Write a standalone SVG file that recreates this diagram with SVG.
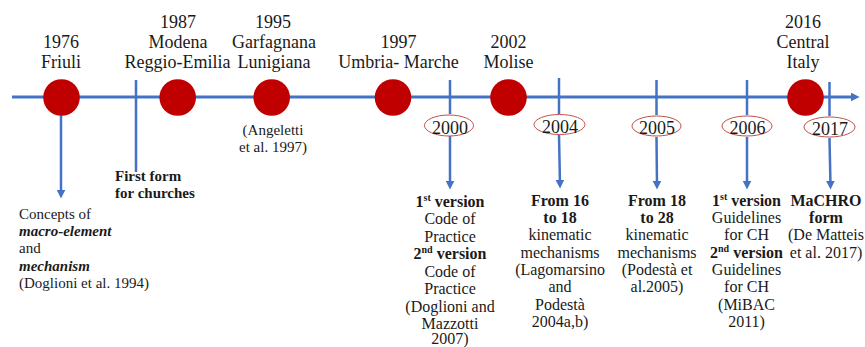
<svg xmlns="http://www.w3.org/2000/svg" width="865" height="347" viewBox="0 0 865 347">
<style>
  .conn line{stroke:#4472c4;stroke-width:2.5;fill:none}
  .conn .axis{stroke-width:3}
  .conn .arr{marker-end:url(#ah)}
  .quake{fill:#c00000}
  .yr{fill:none;stroke:#c0504d;stroke-width:1}
  text{font-family:"Liberation Serif","Times New Roman",serif;fill:#1a1a1a}
  .top{font-size:18px;text-anchor:middle}
  .ell{font-size:18px;text-anchor:middle}
  .col{font-size:16px;text-anchor:middle}
  .sm{font-size:15px}
  .b{font-weight:bold}
  .bi{font-weight:bold;font-style:italic}
  .sup{font-size:10px}
</style>
<defs>
  <marker id="ah" viewBox="0 0 10 10" refX="6" refY="5" markerWidth="9" markerHeight="9" markerUnits="userSpaceOnUse" orient="auto">
    <path d="M0,0 L10,5 L0,10 z" fill="#4472c4"/>
  </marker>
</defs>

<g id="connectors" class="conn">
  <line class="axis arr" x1="12" y1="97" x2="856" y2="97"/>
  <line x1="136" y1="80" x2="136" y2="172"/>
  <line class="arr" x1="61" y1="115" x2="61" y2="195"/>
  <line x1="450" y1="80" x2="450" y2="114"/>
  <line class="arr" x1="450" y1="136" x2="450" y2="186"/>
  <line x1="559" y1="78" x2="559" y2="114"/>
  <line class="arr" x1="559" y1="135" x2="560" y2="185"/>
  <line x1="656.5" y1="80" x2="656.5" y2="115"/>
  <line class="arr" x1="656.5" y1="137" x2="657" y2="186"/>
  <line x1="747" y1="80" x2="747" y2="115"/>
  <line class="arr" x1="747" y1="137" x2="747" y2="186"/>
  <line x1="829.5" y1="82" x2="829.5" y2="116"/>
  <line class="arr" x1="829.5" y1="138" x2="830.5" y2="186"/>
</g>

<g id="e1976">
  <circle class="quake" cx="61.5" cy="97.5" r="18.3"/>
  <text class="top" x="61" y="48">1976</text>
  <text class="top" x="61" y="68">Friuli</text>
</g>
<g id="e1976-note">
  <text class="sm" x="19" y="219">Concepts of</text>
  <text class="sm bi" x="19" y="236">macro-element</text>
  <text class="sm" x="19" y="253">and</text>
  <text class="sm bi" x="19" y="270.5">mechanism</text>
  <text class="sm" x="19" y="288">(Doglioni et al. 1994)</text>
</g>
<g id="first-form">
  <text class="sm b" x="115" y="181">First form</text>
  <text class="sm b" x="115" y="197.5">for churches</text>
</g>
<g id="e1987">
  <circle class="quake" cx="177.7" cy="97.5" r="18.3"/>
  <text class="top" x="178" y="28">1987</text>
  <text class="top" x="178" y="48">Modena</text>
  <text class="top" x="177.5" y="68">Reggio-Emilia</text>
</g>
<g id="e1995">
  <circle class="quake" cx="271.7" cy="97.5" r="18.3"/>
  <text class="top" x="273" y="28">1995</text>
  <text class="top" x="274" y="48">Garfagnana</text>
  <text class="top" x="274" y="68">Lunigiana</text>
  <text class="sm" x="273" y="135" text-anchor="middle">(Angeletti</text>
  <text class="sm" x="273" y="151.5" text-anchor="middle">et al. 1997)</text>
</g>
<g id="e1997">
  <circle class="quake" cx="393" cy="97.5" r="18.3"/>
  <text class="top" x="398.5" y="48">1997</text>
  <text class="top" x="398.5" y="68">Umbria- Marche</text>
</g>
<g id="e2002">
  <circle class="quake" cx="508.5" cy="97.5" r="18.3"/>
  <text class="top" x="508.5" y="48">2002</text>
  <text class="top" x="508.5" y="68">Molise</text>
</g>
<g id="e2016">
  <circle class="quake" cx="805.5" cy="97.5" r="18.3"/>
  <text class="top" x="803" y="28">2016</text>
  <text class="top" x="803" y="48">Central</text>
  <text class="top" x="803" y="68">Italy</text>
</g>

<g id="y2000">
  <ellipse class="yr" cx="449" cy="125.5" rx="24.5" ry="10.5"/>
  <text class="ell" x="450" y="133.5">2000</text>
  <text class="col b" x="450" y="206.5">1<tspan class="sup" dy="-6">st</tspan><tspan dy="6"> version</tspan></text>
  <text class="col" x="450" y="224">Code of</text>
  <text class="col" x="450" y="241.5">Practice</text>
  <text class="col b" x="450" y="259">2<tspan class="sup" dy="-6">nd</tspan><tspan dy="6"> version</tspan></text>
  <text class="col" x="450" y="276.5">Code of</text>
  <text class="col" x="450" y="294">Practice</text>
  <text class="col" x="450" y="311.5">(Doglioni and</text>
  <text class="col" x="450" y="328.5">Mazzotti</text>
  <text class="col" x="450" y="344">2007)</text>
</g>
<g id="y2004">
  <ellipse class="yr" cx="559.5" cy="124.5" rx="25.5" ry="10"/>
  <text class="ell" x="560" y="132.5">2004</text>
  <text class="col b" x="560" y="205.5">From 16</text>
  <text class="col b" x="560" y="222.5">to 18</text>
  <text class="col" x="560" y="240">kinematic</text>
  <text class="col" x="560" y="257.5">mechanisms</text>
  <text class="col" x="560" y="275">(Lagomarsino</text>
  <text class="col" x="560" y="292">and</text>
  <text class="col" x="560" y="309.5">Podestà</text>
  <text class="col" x="560" y="327">2004a,b)</text>
</g>
<g id="y2005">
  <ellipse class="yr" cx="656.5" cy="126" rx="24.5" ry="10"/>
  <text class="ell" x="657" y="134">2005</text>
  <text class="col b" x="657" y="205.5">From 18</text>
  <text class="col b" x="657" y="222.5">to 28</text>
  <text class="col" x="657" y="240">kinematic</text>
  <text class="col" x="657" y="257.5">mechanisms</text>
  <text class="col" x="657" y="275">(Podestà et</text>
  <text class="col" x="657" y="292">al.2005)</text>
</g>
<g id="y2006">
  <ellipse class="yr" cx="747" cy="126" rx="25" ry="10"/>
  <text class="ell" x="747.5" y="134">2006</text>
  <text class="col b" x="746.5" y="205.5">1<tspan class="sup" dy="-6">st</tspan><tspan dy="6"> version</tspan></text>
  <text class="col" x="746.5" y="222.5">Guidelines</text>
  <text class="col" x="746.5" y="240">for CH</text>
  <text class="col b" x="746.5" y="257.5">2<tspan class="sup" dy="-6">nd</tspan><tspan dy="6"> version</tspan></text>
  <text class="col" x="746.5" y="275">Guidelines</text>
  <text class="col" x="746.5" y="292">for CH</text>
  <text class="col" x="746.5" y="309.5">(MiBAC</text>
  <text class="col" x="746.5" y="327">2011)</text>
</g>
<g id="y2017">
  <ellipse class="yr" cx="829.5" cy="127" rx="25.5" ry="10"/>
  <text class="ell" x="830" y="135">2017</text>
  <text class="col b" x="826" y="205.5">MaCHRO</text>
  <text class="col b" x="826" y="222.5">form</text>
  <text class="col" x="826" y="240">(De Matteis</text>
  <text class="col" x="826" y="257.5">et al. 2017)</text>
</g>
</svg>
